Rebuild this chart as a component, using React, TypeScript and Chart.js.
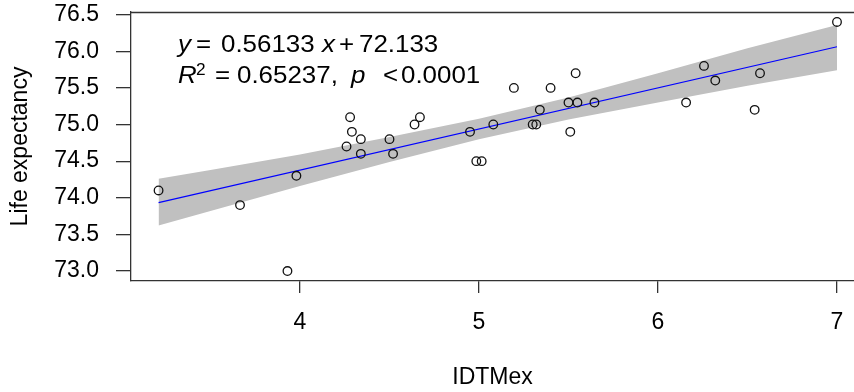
import React, { useEffect, useRef } from "react";
import { Chart, registerables } from "chart.js";

Chart.register(...registerables);

// ---- data ----
const idtmex = [
  3.21, 3.665, 3.93, 3.98, 4.28, 4.29, 4.34, 4.26, 4.34, 4.5, 4.52, 4.67, 4.64,
  4.95, 4.985, 5.015, 5.08, 5.195, 5.3, 5.32, 5.34, 5.4, 5.54, 5.5, 5.55, 5.51,
  5.645, 6.157, 6.257, 6.32, 6.57, 6.54, 7.0,
];
const lifeExpectancy = [
  74.1, 73.9, 73.0, 74.3, 75.1, 74.9, 74.8, 74.7, 74.6, 74.8, 74.6, 75.1, 75.0,
  74.9, 74.5, 74.5, 75.0, 75.5, 75.0, 75.0, 75.2, 75.5, 75.7, 75.3, 75.3, 74.9,
  75.3, 75.3, 75.8, 75.6, 75.7, 75.2, 76.4,
];
const fitX = [3.21, 7.0];
const fitY = [73.935, 76.062];
const bandX = [3.21, 3.5, 4.0, 4.5, 5.0, 5.5, 6.0, 6.5, 7.0];
const bandUpper = [74.26, 74.38, 74.59, 74.83, 75.08, 75.37, 75.7, 76.04, 76.36];
const bandLower = [73.62, 73.82, 74.16, 74.49, 74.8, 75.07, 75.3, 75.53, 75.74];
const xTicks = [4, 5, 6, 7];
const yTicks = [73.0, 73.5, 74.0, 74.5, 75.0, 75.5, 76.0, 76.5];
const xRange = [3.056, 7.095];
const yRange = [72.864, 76.536];
const xTitle = "IDTMex";
const yTitle = "Life expectancy";

// annotation pieces: text, italic, x offset from origin, size, baseline shift
const eqLine1 = [
  { t: "y", it: true, dx: 0, size: 24, up: 0 },
  { t: "=", it: false, dx: 18, size: 24, up: 0 },
  { t: "0.56133", it: false, dx: 43, size: 24, up: 0 },
  { t: "x", it: true, dx: 144, size: 24, up: 0 },
  { t: "+", it: false, dx: 161, size: 24, up: 0 },
  { t: "72.133", it: false, dx: 181, size: 24, up: 0 },
];
const eqLine2 = [
  { t: "R", it: true, dx: 0, size: 24, up: 0 },
  { t: "2", it: false, dx: 18, size: 16, up: 8 },
  { t: "=", it: false, dx: 37, size: 24, up: 0 },
  { t: "0.65237,", it: false, dx: 59, size: 24, up: 0 },
  { t: "p", it: true, dx: 173, size: 24, up: 0 },
  { t: "<", it: false, dx: 205, size: 24, up: 0 },
  { t: "0.0001", it: false, dx: 223, size: 24, up: 0 },
];

const FONT = "'Liberation Sans', Arial, sans-serif";

const boxPlugin = {
  id: "boxTop",
  afterDraw(chart: any) {
    const { ctx, chartArea } = chart;
    ctx.save();
    ctx.strokeStyle = "#333";
    ctx.lineWidth = 1.3;
    ctx.beginPath();
    ctx.moveTo(chartArea.left, chartArea.top + 0.5);
    ctx.lineTo(chartArea.right, chartArea.top + 0.5);
    ctx.stroke();
    ctx.restore();
  },
};

const annotationPlugin = {
  id: "equation",
  afterDraw(chart: any) {
    const { ctx } = chart;
    const ox = 178;
    const lines = [
      { pieces: eqLine1, base: 52 },
      { pieces: eqLine2, base: 83 },
    ];
    ctx.save();
    ctx.fillStyle = "#000";
    ctx.textBaseline = "alphabetic";
    ctx.textAlign = "left";
    for (const line of lines) {
      for (const p of line.pieces) {
        ctx.save();
        ctx.font = `${p.it ? "italic " : ""}${p.size}px ${FONT}`;
        ctx.translate(ox + p.dx, line.base - p.up);
        ctx.scale(1.08, 1);
        ctx.fillText(p.t, 0, 0);
        ctx.restore();
      }
    }
    ctx.restore();
  },
};

export default function App() {
  const ref = useRef<HTMLCanvasElement | null>(null);

  useEffect(() => {
    if (!ref.current) return;
    const points = idtmex.map((x, i) => ({ x, y: lifeExpectancy[i] }));
    const fit = fitX.map((x, i) => ({ x, y: fitY[i] }));
    const upper = bandX.map((x, i) => ({ x, y: bandUpper[i] }));
    const lower = bandX.map((x, i) => ({ x, y: bandLower[i] }));

    const chart = new Chart(ref.current, {
      type: "scatter",
      data: {
        datasets: [
          {
            data: points,
            pointStyle: "circle",
            pointRadius: 4.3,
            pointBorderWidth: 1.3,
            pointBorderColor: "#111",
            pointBackgroundColor: "rgba(0,0,0,0)",
          } as any,
          {
            type: "line",
            data: fit,
            borderColor: "#0000ff",
            borderWidth: 1.2,
            pointRadius: 0,
            fill: false,
          } as any,
          {
            type: "line",
            data: upper,
            borderColor: "rgba(0,0,0,0)",
            borderWidth: 0,
            pointRadius: 0,
            backgroundColor: "rgb(192,192,192)",
            fill: "+1",
          } as any,
          {
            type: "line",
            data: lower,
            borderColor: "rgba(0,0,0,0)",
            borderWidth: 0,
            pointRadius: 0,
            fill: false,
          } as any,
        ],
      },
      options: {
        animation: false,
        responsive: false,
        devicePixelRatio: 1,
        layout: { autoPadding: false, padding: { top: 12, right: 0, bottom: 0, left: 0 } },
        plugins: { legend: { display: false }, tooltip: { enabled: false } },
        scales: {
          x: {
            type: "linear",
            min: xRange[0],
            max: xRange[1],
            afterBuildTicks: (s: any) => {
              s.ticks = xTicks.map((v) => ({ value: v }));
            },
            afterFit: (s: any) => {
              s.height = 111;
              s.paddingLeft = 0;
              s.paddingRight = 0;
            },
            grid: {
              drawOnChartArea: false,
              drawTicks: true,
              tickLength: 12,
              color: "#333",
              lineWidth: 1.3,
            },
            border: { display: true, color: "#333", width: 1.3 },
            ticks: {
              color: "#000",
              padding: 16,
              font: { family: FONT, size: 23 },
              callback: (v: any) => String(v),
            },
            title: {
              display: true,
              text: xTitle,
              color: "#000",
              font: { family: FONT, size: 23 },
              padding: { top: 0, bottom: 1 },
            },
          },
          y: {
            type: "linear",
            min: yRange[0],
            max: yRange[1],
            afterBuildTicks: (s: any) => {
              s.ticks = yTicks.map((v) => ({ value: v }));
            },
            afterFit: (s: any) => {
              s.width = 131;
              s.paddingTop = 0;
              s.paddingBottom = 0;
            },
            grid: {
              drawOnChartArea: false,
              drawTicks: true,
              tickLength: 15,
              color: "#333",
              lineWidth: 1.3,
            },
            border: { display: true, color: "#333", width: 1.3 },
            ticks: {
              color: "#000",
              padding: 17,
              font: { family: FONT, size: 23 },
              callback: (v: any) => Number(v).toFixed(1),
            },
            title: {
              display: true,
              text: yTitle,
              color: "#000",
              font: { family: FONT, size: 23 },
              padding: { top: 7, bottom: 0 },
            },
          },
        },
      },
      plugins: [boxPlugin, annotationPlugin],
    } as any);
    return () => chart.destroy();
  }, []);

  return (
    <div style={{ position: "absolute", left: 0, top: 0, width: 854, height: 392, background: "#fff" }}>
      <canvas ref={ref} width={854} height={392} style={{ display: "block" }} />
    </div>
  );
}
